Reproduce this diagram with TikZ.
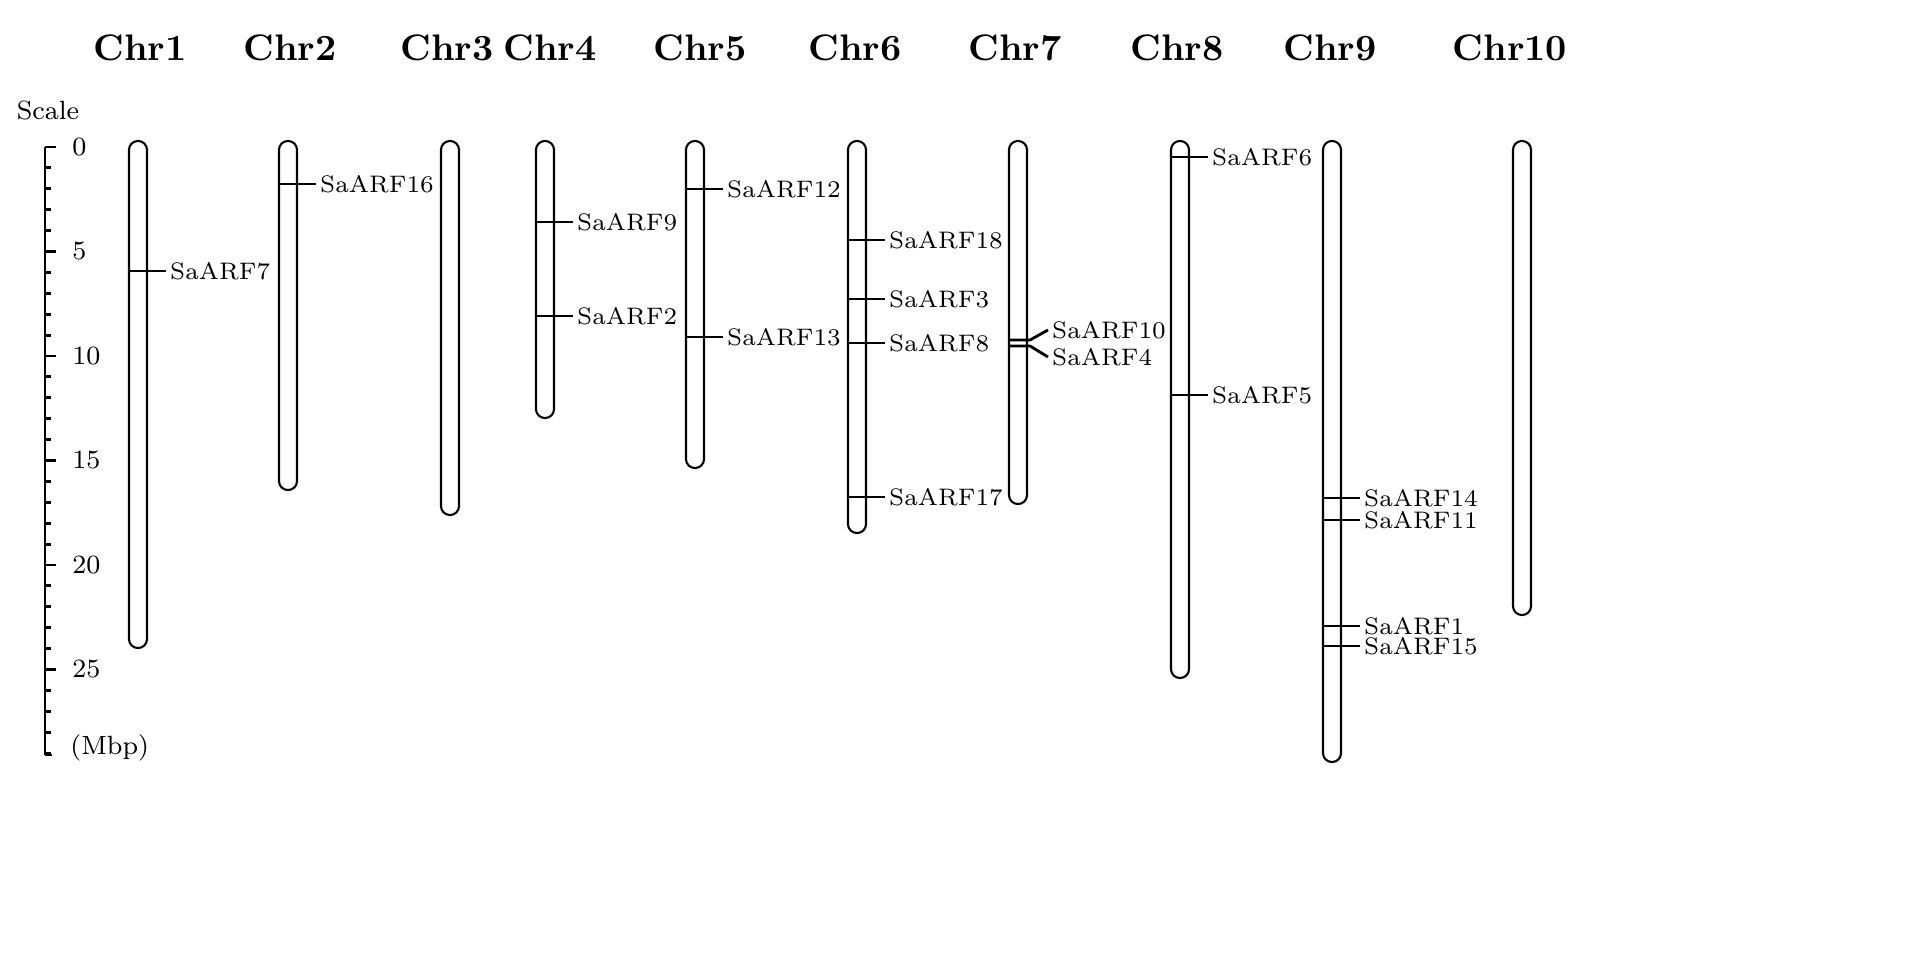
\documentclass[tikz,border=0pt]{standalone}
\usepackage{tikz}
\usetikzlibrary{positioning}
\tikzset{
  chrom/.style={draw,semithick,rounded corners=2.5pt},
  chrlab/.style={font=\bfseries\fontsize{10.5}{13}\selectfont},
  genelab/.style={font=\fontsize{6.8}{8}\selectfont,anchor=west,inner sep=1pt},
  sclab/.style={font=\fontsize{7.5}{9}\selectfont},
  tick/.style={thick}
}
\begin{document}
\begin{tikzpicture}[x=0.01cm,y=-0.01cm]
  \useasboundingbox (0,0) rectangle (1927,961);
  % scale bar
  \node[sclab] (scale) at (48,110) {Scale};
  \draw[tick] (45,147) -- (45,755);
  \foreach \m in {0,...,29}{
    \draw[tick] (45,147+20.9*\m) -- (51,147+20.9*\m);
  }
  \foreach \m in {0,5,...,25}{
    \draw[tick] (45,147+20.9*\m) -- (56,147+20.9*\m);
    \node[sclab,anchor=west] at (60,147+20.9*\m) {\m};
  }
  \draw[tick] (45,755) -- (52,755);
  \node[sclab,anchor=west] (mbp) at (58,748) {(Mbp)};
  % chromosomes
  \foreach \i/\x/\b/\lx in {1/138/648/140,2/288/490/290,3/450/515/447,4/545/418/550,5/695/468/700,
                            6/857/533/855,7/1018/504/1015,8/1180/678/1177,9/1332/762/1330,10/1522/615/1510}{
    \node[chrlab] (chr\i) at (\lx,48) {Chr\i};
    \draw[chrom] (\x-9,141) rectangle (\x+9,\b);
  }
  % genes
  \foreach \x/\y/\g in {138/271/7,288/184/16,545/222/9,545/316/2,695/189/12,695/337/13,
                        857/240/18,857/299/3,857/343/8,857/497/17,1180/157/6,1180/395/5,
                        1332/498/14,1332/520/11,1332/626/1,1332/646/15}{
    \node[genelab] (arf\g) at (\x+28,\y) {SaARF\g};
    \draw[thick] (\x-9,\y) -- (arf\g.west);
  }
  \node[genelab] (arf10) at (1048,330) {SaARF10};
  \node[genelab] (arf4) at (1048,357) {SaARF4};
  \draw[thick] (1009,340) -- (1030,340) -- (arf10.west);
  \draw[thick] (1009,346) -- (1030,346) -- (arf4.west);
\end{tikzpicture}
\end{document}
